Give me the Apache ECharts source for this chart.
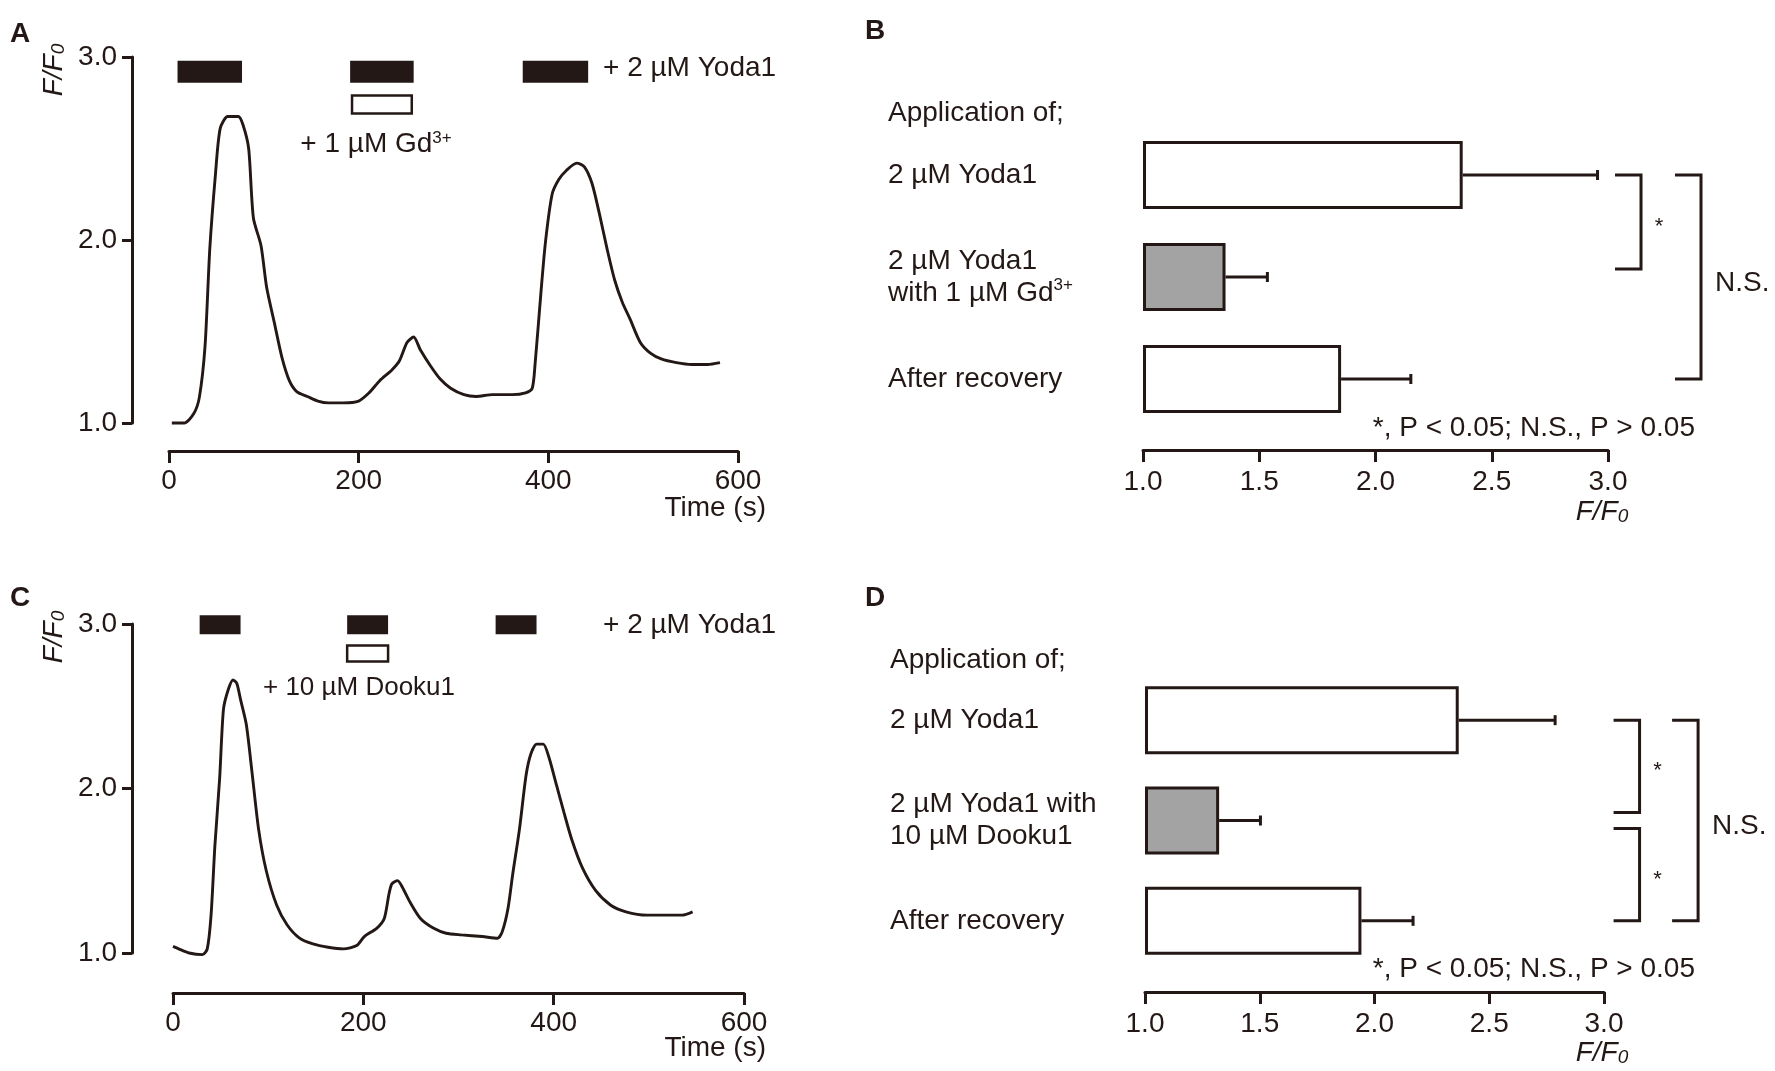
<!DOCTYPE html>
<html>
<head>
<meta charset="utf-8">
<title>Yoda1 F/F0</title>
<script src="https://cdn.jsdelivr.net/npm/echarts@6.0.0/dist/echarts.min.js"></script>
<style>
  html, body { margin: 0; padding: 0; background: #fff; }
  #main { width: 1775px; height: 1071px; }
</style>
</head>
<body>
<div id="main"></div>
<script>
// panel A trace (Gd3+)
var timeA = [3,16,26,32,38,43,49,54,62,73,78,84,89,97,103,111,119,127,135,146,157,168,184,200,211,
  222,235,243,251,258,265,276,286,297,311,324,341,362,376,383,386,392,397,404,411,419,430,438,446,454,
  462,470,478,486,497,508,519,535,551,568,581];
var ratioA = [1.00,1.00,1.05,1.14,1.42,1.95,2.36,2.61,2.675,2.675,2.63,2.50,2.12,1.97,1.74,1.55,1.36,1.23,1.17,1.145,
  1.12,1.11,1.11,1.12,1.165,1.23,1.29,1.34,1.44,1.47,1.40,1.31,1.24,1.19,1.155,1.145,1.155,1.155,1.165,1.19,
  1.32,1.70,1.99,2.25,2.33,2.38,2.42,2.40,2.31,2.14,1.95,1.78,1.66,1.57,1.44,1.38,1.35,1.33,1.32,1.32,1.33];
// panel C trace (Dooku1)
var timeC = [0,6,17,31,36,40,44,49,53,58,63,67,71,77,83,90,98,109,120,133,147,163,179,193,201,
  214,222,227,230,236,241,249,260,274,287,303,325,341,346,352,357,364,371,376,382,389,395,403,411,419,
  430,444,460,476,498,519,535,546];
var ratioC = [1.04,1.025,1.00,0.99,1.025,1.23,1.65,2.06,2.48,2.60,2.66,2.64,2.54,2.39,2.10,1.75,1.50,1.29,1.17,1.09,
  1.055,1.035,1.025,1.045,1.10,1.15,1.21,1.36,1.42,1.44,1.40,1.31,1.21,1.15,1.12,1.11,1.10,1.09,1.13,1.27,
  1.48,1.75,2.08,2.21,2.27,2.27,2.19,2.02,1.85,1.69,1.52,1.38,1.29,1.25,1.23,1.23,1.23,1.25];

// drug application periods (s)
var yodaA = [[9,77],[191,258],[373,442]];
var gdA = [[193,256]];
var yodaC = [[28,71],[183,226],[339,382]];
var dookuC = [[183,226]];

// bar panels
var catB = ['2 µM Yoda1', '2 µM Yoda1\nwith 1 µM Gd{sup|3+}', 'After recovery'];
var meanB = [2.375, 1.355, 1.852];
var semB = [0.58, 0.18, 0.30];
var catD = ['2 µM Yoda1', '2 µM Yoda1 with\n10 µM Dooku1', 'After recovery'];
var meanD = [2.367, 1.323, 1.943];
var semD = [0.42, 0.18, 0.225];
var bracketsB = [[0,1],[0,2]];
var bracketTextB = ['*','N.S.'];
var bracketsD = [[0,1],[1,2],[0,2]];
var bracketTextD = ['*','*','N.S.'];

var INK = '#231815';
var FONT = "'Liberation Sans', Arial, sans-serif";
var FS = 28;

function zip(a, b) { return a.map(function (v, i) { return [v, b[i]]; }); }
function fix1(v) { return v.toFixed(1); }

function traceX(grid, offset) {
  return {
    gridIndex: grid, type: 'value', min: 0, max: 600, interval: 200, offset: offset,
    axisLine: { show: true, onZero: false, lineStyle: { color: INK, width: 3 } },
    axisTick: { show: true, length: 12, lineStyle: { color: INK, width: 3 } },
    axisLabel: { color: INK, fontSize: FS, fontFamily: FONT, margin: 16 },
    splitLine: { show: false }
  };
}
function traceY(grid, offset) {
  return {
    gridIndex: grid, type: 'value', min: 1, max: 3, interval: 1, offset: offset,
    axisLine: { show: true, onZero: false, lineStyle: { color: INK, width: 3 } },
    axisTick: { show: true, length: 10, lineStyle: { color: INK, width: 3 } },
    axisLabel: { color: INK, fontSize: FS, fontFamily: FONT, margin: 15, formatter: fix1 },
    splitLine: { show: false }
  };
}
function barX(grid, offset) {
  return {
    gridIndex: grid, type: 'value', min: 1, max: 3, interval: 0.5, offset: offset,
    axisLine: { show: true, onZero: false, lineStyle: { color: INK, width: 3 } },
    axisTick: { show: true, length: 12, lineStyle: { color: INK, width: 3 } },
    axisLabel: { color: INK, fontSize: FS, fontFamily: FONT, margin: 18, formatter: fix1 },
    splitLine: { show: false }
  };
}
function barY(grid, cats, margin) {
  return {
    gridIndex: grid, type: 'category', data: cats, inverse: true,
    axisLine: { show: false }, axisTick: { show: false },
    axisLabel: {
      color: INK, fontSize: FS, fontFamily: FONT, align: 'left', margin: margin, lineHeight: 32,
      rich: { sup: { fontSize: 17, fontFamily: FONT, color: INK, verticalAlign: 'top' } }
    }
  };
}

function drugBars(idx, data, level, h, filled) {
  return {
    type: 'custom', xAxisIndex: idx, yAxisIndex: idx, data: data, silent: true, clip: false,
    encode: { x: [0, 1] },
    renderItem: function (params, api) {
      var a = api.coord([api.value(0), level]);
      var b = api.coord([api.value(1), level]);
      return {
        type: 'rect',
        shape: { x: a[0], y: a[1] - h / 2, width: b[0] - a[0], height: h },
        style: filled ? { fill: INK } : { fill: '#fff', stroke: INK, lineWidth: 2.5 }
      };
    }
  };
}

function trace(idx, t, r) {
  return {
    type: 'line', xAxisIndex: idx, yAxisIndex: idx, data: zip(t, r),
    showSymbol: false, smooth: 0.25, clip: false, silent: true,
    lineStyle: { color: INK, width: 2.9 }
  };
}

function barSeries(idx, means, stack) {
  return [{
    type: 'bar', xAxisIndex: idx, yAxisIndex: idx, stack: stack, barWidth: 68, silent: true,
    data: means.map(function () { return 1; }),
    itemStyle: { color: 'transparent' }
  }, {
    type: 'bar', xAxisIndex: idx, yAxisIndex: idx, stack: stack, barWidth: 68, silent: true, clip: false,
    data: means.map(function (m) { return +(m - 1).toFixed(3); }),
    itemStyle: {
      borderColor: INK, borderWidth: 3,
      color: function (p) { return p.dataIndex === 1 ? '#a3a3a3' : '#ffffff'; }
    }
  }];
}

function errSeries(idx, means, sems) {
  return {
    type: 'custom', xAxisIndex: idx, yAxisIndex: idx, silent: true, clip: false,
    data: means.map(function (m, i) { return [m, i, m + sems[i]]; }),
    encode: { x: [0, 2], y: 1 }, z: 3,
    renderItem: function (params, api) {
      var s = api.coord([api.value(0), api.value(1)]);
      var e = api.coord([api.value(2), api.value(1)]);
      var st = { stroke: INK, lineWidth: 3 };
      return { type: 'group', children: [
        { type: 'line', shape: { x1: s[0], y1: s[1], x2: e[0], y2: e[1] }, style: st },
        { type: 'line', shape: { x1: e[0], y1: e[1] - 5, x2: e[0], y2: e[1] + 5 }, style: st }
      ] };
    }
  };
}

function bracketSeries(idx, brackets, texts, innerX, outerX) {
  return {
    type: 'custom', xAxisIndex: idx, yAxisIndex: idx, silent: true, clip: false,
    data: brackets, encode: { y: [0, 1] },
    renderItem: function (params, api) {
      var from = api.value(0), to = api.value(1);
      var bx = (to - from === 2) ? outerX : innerX;
      var p1 = api.coord([bx, from]), p2 = api.coord([bx, to]);
      var x = p1[0];
      var y1 = p1[1] + (from === 1 ? 8 : 0);
      var y2 = p2[1] - (to === 1 ? 8 : 0);
      var label = texts[params.dataIndex];
      var star = label === '*';
      return { type: 'group', children: [
        { type: 'polyline', shape: { points: [[x - 26, y1], [x, y1], [x, y2], [x - 26, y2]] },
          style: { stroke: INK, lineWidth: 3, fill: null } },
        { type: 'text', x: star ? x + 18 : x + 14, y: (y1 + y2) / 2 + (star ? 5 : 6),
          style: { text: label, fill: INK, fontSize: star ? 22 : FS, fontFamily: FONT,
                   align: star ? 'center' : 'left', verticalAlign: 'middle' } }
      ] };
    }
  };
}

function txt(x, y, text, o) {
  o = o || {};
  return {
    type: 'text', x: x, y: y, rotation: o.rot || 0, silent: true,
    style: {
      text: text, fill: INK, fontSize: o.size || FS, fontFamily: FONT,
      fontWeight: o.bold ? 'bold' : 'normal', fontStyle: o.italic ? 'italic' : 'normal',
      align: o.align || 'left', verticalAlign: 'middle',
      rich: {
        sup: { fontSize: 17, fontFamily: FONT, fill: INK, verticalAlign: 'top' },
        i: { fontSize: o.size || FS, fontFamily: FONT, fontStyle: 'italic', fill: INK },
        sub: { fontSize: 19, fontFamily: FONT, fontStyle: 'italic', fill: INK, verticalAlign: 'bottom' }
      }
    }
  };
}

var chart = echarts.init(document.getElementById('main'));
var series = [
  trace(0, timeA, ratioA),
  drugBars(0, yodaA, 2.92, 22, true),
  drugBars(0, gdA, 2.74, 18, false),
  trace(2, timeC, ratioC),
  drugBars(2, yodaC, 2.995, 19, true),
  drugBars(2, dookuC, 2.82, 16, false)
].concat(barSeries(1, meanB, 'b'), [errSeries(1, meanB, semB), bracketSeries(1, bracketsB, bracketTextB, 3.142, 3.40)],
         barSeries(3, meanD, 'd'), [errSeries(3, meanD, semD), bracketSeries(3, bracketsD, bracketTextD, 3.155, 3.41)]);

chart.setOption({
  animation: false,
  backgroundColor: '#fff',
  grid: [
    { left: 169, top: 57, width: 569, height: 366 },
    { left: 1143, top: 124, width: 465, height: 306 },
    { left: 173, top: 624, width: 571, height: 329 },
    { left: 1145, top: 670, width: 459, height: 301 }
  ],
  xAxis: [traceX(0, 28), barX(1, 20), traceX(2, 40), barX(3, 21)],
  yAxis: [traceY(0, 37), barY(1, catB, 255), traceY(2, 41), barY(3, catD, 255)],
  series: series,
  graphic: [
    txt(20, 34, 'A', { bold: true, align: 'center' }),
    txt(875, 31, 'B', { bold: true, align: 'center' }),
    txt(20, 598, 'C', { bold: true, align: 'center' }),
    txt(875, 598, 'D', { bold: true, align: 'center' }),
    txt(54, 70, '{i|F/F}{sub|0}', { rot: Math.PI / 2, align: 'center' }),
    txt(54, 637, '{i|F/F}{sub|0}', { rot: Math.PI / 2, align: 'center' }),
    txt(603, 68, '+ 2 µM Yoda1'),
    txt(603, 625, '+ 2 µM Yoda1'),
    txt(376, 144, '+ 1 µM Gd{sup|3+}', { align: 'center' }),
    txt(359, 688, '+ 10 µM Dooku1', { align: 'center', size: 26 }),
    txt(766, 508, 'Time (s)', { align: 'right' }),
    txt(766, 1048, 'Time (s)', { align: 'right' }),
    txt(888, 113, 'Application of;'),
    txt(890, 660, 'Application of;'),
    txt(1695, 428, '*, P < 0.05; N.S., P > 0.05', { align: 'right' }),
    txt(1695, 969, '*, P < 0.05; N.S., P > 0.05', { align: 'right' }),
    txt(1602, 512, '{i|F/F}{sub|0}', { align: 'center' }),
    txt(1602, 1053, '{i|F/F}{sub|0}', { align: 'center' })
  ]
});
</script>
</body>
</html>
